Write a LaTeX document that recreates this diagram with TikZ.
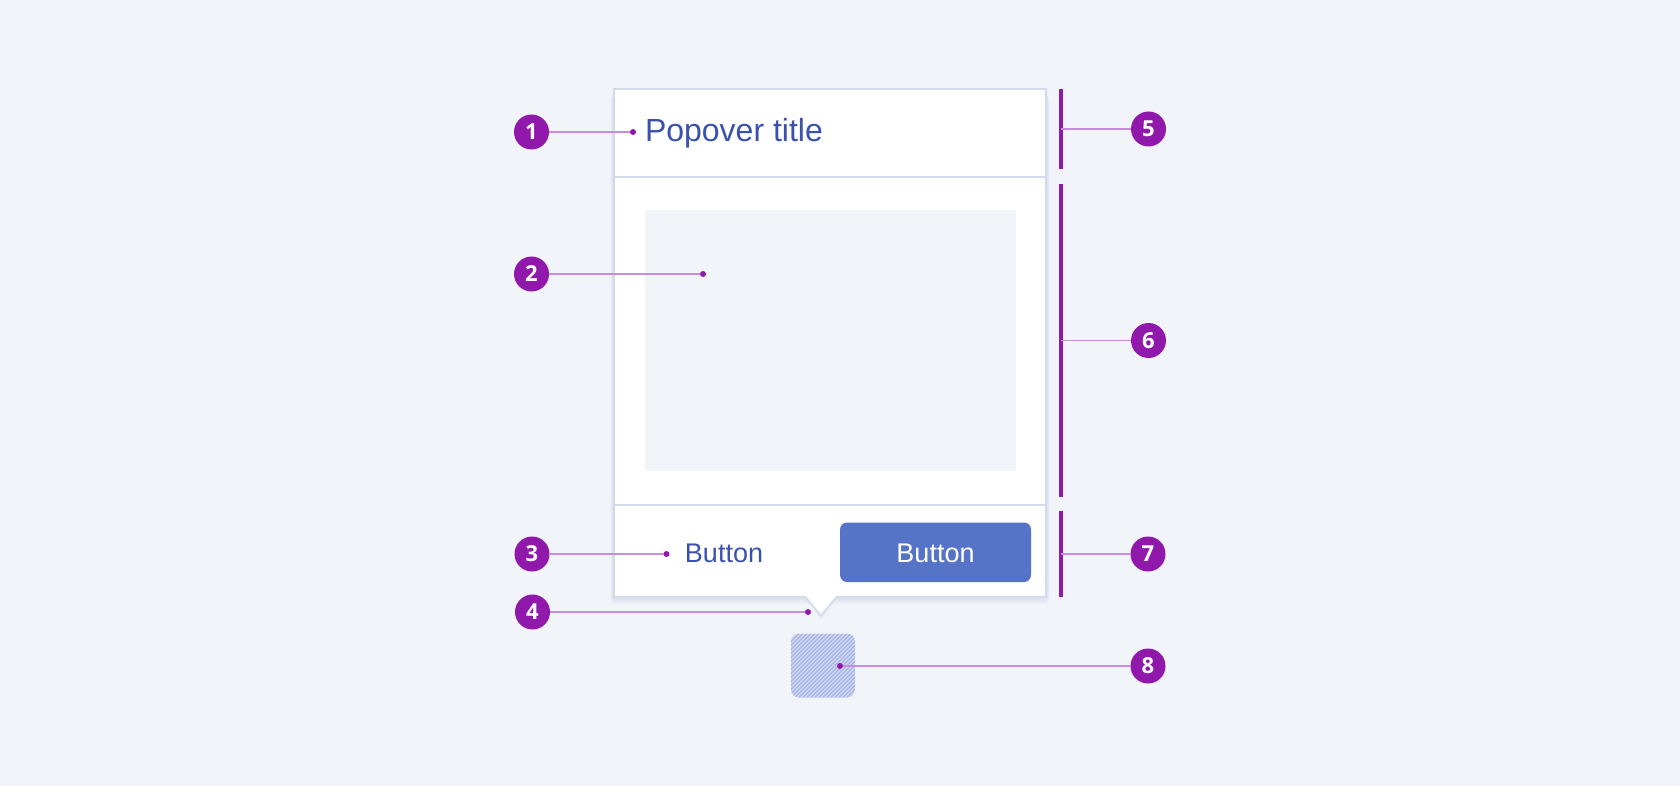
\documentclass[tikz,border=0pt]{standalone}
\usepackage{fontspec}
\setmainfont{Liberation Sans}
\newfontfamily\numfont{Open Sans}
\definecolor{mpurple}{HTML}{9019AC}
\definecolor{mlead}{HTML}{C88BDD}
\definecolor{borderc}{HTML}{D3DAEC}
\definecolor{bgc}{HTML}{F1F4F9}
\definecolor{textc}{HTML}{3A51AE}
\definecolor{btnc}{HTML}{5574C8}
\definecolor{hatchbg}{HTML}{CDD5F1}
\definecolor{hatchc}{HTML}{9DAEE3}
\definecolor{shadowc}{HTML}{3A51AE}
\begin{document}
\begin{tikzpicture}[x=1pt,y=-1pt,
  every node/.style={inner sep=0pt, outer sep=0pt},
  marker/.style={circle, fill=mpurple, minimum size=35pt, text=white, font=\numfont\bfseries\fontsize{22}{22}\selectfont},
  leader/.style={draw=mlead, line width=1.6pt},
  bar/.style={draw=mpurple, line width=3.5pt},
  dotc/.style={circle, fill=mpurple, minimum size=6pt},
  divider/.style={draw=borderc, line width=1.5pt},
  uitext/.style={text=textc, font=\fontsize{27}{27}\selectfont}]
\useasboundingbox (0,0) rectangle (1680,786);
\fill[bgc] (0,0) rectangle (1680,786);

% soft shadow
\foreach \i in {1,...,6}{
  \fill[shadowc, opacity=0.018, rounded corners=\i pt] (614-\i*0.6, 92+\i*0.6) rectangle (1046+\i*0.6, 597+\i*1.2);
  \fill[shadowc, opacity=0.018] (806-\i*0.3, 597) -- (821,615+\i*0.8) -- (836+\i*0.3,597) -- cycle;
}

% popover box
\node[draw=borderc, fill=white, line width=1.5pt, minimum width=432pt, minimum height=508pt, anchor=north west] (box) at (614,89) {};
\coordinate (hdl) at (614,177); \coordinate (hdr) at (1046,177);
\coordinate (ftl) at (614,505); \coordinate (ftr) at (1046,505);
\draw[divider] (hdl) -- (hdr);
\draw[divider] (ftl) -- (ftr);

% content placeholder
\node[fill=bgc, minimum width=371pt, minimum height=261pt, anchor=north west] (content) at (644.5,210) {};

% title
\node[anchor=base west, text=textc, font=\fontsize{32}{32}\selectfont] (title) at (645,142) {Popover title};

% buttons
\node[anchor=base, uitext] (link) at (724,562) {Button};
\node[fill=btnc, rounded corners=7pt, minimum width=191pt, minimum height=59.5pt, anchor=north west] (btn) at (840,522.5) {};
\node[anchor=base, uitext, text=white] (btntext) at (935.5,562) {Button};

% tail
\fill[white] (805.5,595.8) -- (836.5,595.8) -- (821,615) -- cycle;
\draw[borderc, line width=1.5pt, line join=miter] (805.5,597) -- (821,615.5) -- (836.5,597);

% hatched target
\begin{scope}
  \clip[rounded corners=8pt] (791,633.5) rectangle (855,697.5);
  \fill[hatchbg] (791,633.5) rectangle (855,697.5);
  \foreach \k in {-72,-68,...,72}{
    \draw[hatchc, line width=0.9pt] (791+\k,697.5) -- (855+\k,633.5);
  }
\end{scope}

% right bars
\draw[bar] (1061,89) -- coordinate[midway] (b5) (1061,169);
\draw[bar] (1061,184) -- coordinate[midway] (b6) (1061,497);
\draw[bar] (1061,511) -- coordinate[midway] (b7) (1061,597);

% markers
\node[marker] (m1) at (531.5,132) {1};
\node[marker] (m2) at (531.5,274) {2};
\node[marker] (m3) at (532,554) {3};
\node[marker] (m4) at (532.5,612) {4};
\node[marker] (m5) at (1148.5,129) {5};
\node[marker] (m6) at (1148.5,340.5) {6};
\node[marker] (m7) at (1148,554) {7};
\node[marker] (m8) at (1148,666) {8};

% dots
\node[dotc] (d1) at (633,132) {};
\node[dotc] (d2) at (703,274) {};
\node[dotc] (d3) at (666.5,554) {};
\node[dotc] (d4) at (808,612) {};
\node[dotc] (d8) at (840,666) {};

% leaders
\draw[leader] (m1) -- (d1);
\draw[leader] (m2) -- (d2);
\draw[leader] (m3) -- (d3);
\draw[leader] (m4) -- (d4);
\draw[leader] (d8) -- (m8);
\draw[leader] (b5) -- (m5);
\draw[leader] (b6) -- (m6);
\draw[leader] (b7) -- (m7);
\end{tikzpicture}
\end{document}
